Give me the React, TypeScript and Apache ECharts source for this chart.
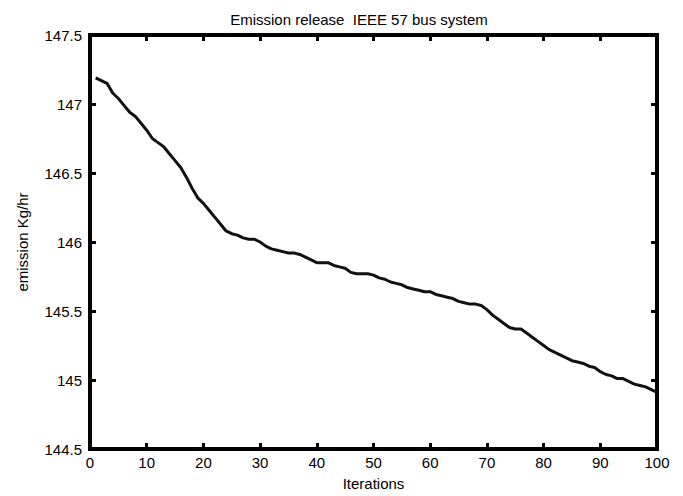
import React, { useEffect, useRef } from "react";
import * as echarts from "echarts";

const iterations: number[] = Array.from({ length: 100 }, (_, k) => k + 1);

const emission: number[] = [
  147.19, 147.17, 147.15, 147.08, 147.04, 146.99, 146.94, 146.91, 146.86, 146.81,
  146.75, 146.72, 146.69, 146.64, 146.59, 146.54, 146.47, 146.39, 146.32, 146.28,
  146.23, 146.18, 146.13, 146.08, 146.06, 146.05, 146.03, 146.02, 146.02, 146.0,
  145.97, 145.95, 145.94, 145.93, 145.92, 145.92, 145.91, 145.89, 145.87, 145.85,
  145.85, 145.85, 145.83, 145.82, 145.81, 145.78, 145.77, 145.77, 145.77, 145.76,
  145.74, 145.73, 145.71, 145.7, 145.69, 145.67, 145.66, 145.65, 145.64, 145.64,
  145.62, 145.61, 145.6, 145.59, 145.57, 145.56, 145.55, 145.55, 145.54, 145.51,
  145.47, 145.44, 145.41, 145.38, 145.37, 145.37, 145.34, 145.31, 145.28, 145.25,
  145.22, 145.2, 145.18, 145.16, 145.14, 145.13, 145.12, 145.1, 145.09, 145.06,
  145.04, 145.03, 145.01, 145.01, 144.99, 144.97, 144.96, 144.95, 144.93, 144.91,
];

const titleText = "Emission release  IEEE 57 bus system";
const xName = "Iterations";
const yName = "emission Kg/hr";

const FONT = "'Liberation Sans', Arial, Helvetica, sans-serif";

export default function App() {
  const ref = useRef<HTMLDivElement>(null);

  useEffect(() => {
    if (!ref.current) return;
    const chart = echarts.init(ref.current, null, { renderer: "svg" });

    const mkLine = () => ({ show: true, onZero: false, lineStyle: { color: "#000", width: 4, cap: "square" } });
    const mkTick = () => ({ show: true, inside: true, length: 6, lineStyle: { color: "#000", width: 3 } });
    const label = { color: "#000", fontSize: 15, fontFamily: FONT };

    chart.setOption({
      animation: false,
      backgroundColor: "#fff",
      title: {
        text: titleText,
        left: 354,
        textAlign: "center",
        top: 7,
        textStyle: { color: "#000", fontSize: 15, fontWeight: "normal", fontFamily: FONT },
      },
      grid: { left: 90, right: 26, top: 35, bottom: 45, containLabel: false },
      xAxis: [
        {
          type: "value",
          position: "bottom",
          min: 0,
          max: 100,
          interval: 10,
          axisLine: mkLine(),
          axisTick: mkTick(),
          splitLine: { show: false },
          axisLabel: { ...label, margin: 6 },
          name: xName,
          nameLocation: "middle",
          nameGap: 27,
          nameTextStyle: { ...label },
        },
        {
          type: "value",
          position: "top",
          min: 0,
          max: 100,
          interval: 10,
          axisLine: mkLine(),
          axisTick: mkTick(),
          splitLine: { show: false },
          axisLabel: { show: false },
        },
      ],
      yAxis: [
        {
          type: "value",
          position: "left",
          min: 144.5,
          max: 147.5,
          interval: 0.5,
          axisLine: mkLine(),
          axisTick: mkTick(),
          splitLine: { show: false },
          axisLabel: { ...label, margin: 8 },
          name: yName,
          nameLocation: "middle",
          nameGap: 60,
          nameTextStyle: { ...label },
        },
        {
          type: "value",
          position: "right",
          min: 144.5,
          max: 147.5,
          interval: 0.5,
          axisLine: mkLine(),
          axisTick: mkTick(),
          splitLine: { show: false },
          axisLabel: { show: false },
        },
      ],
      series: [
        {
          type: "line",
          data: iterations.map((it, i) => [it, emission[i]]),
          showSymbol: false,
          symbol: "none",
          lineStyle: { color: "#111", width: 3 },
          xAxisIndex: 0,
          yAxisIndex: 0,
        },
      ],
    });

    return () => chart.dispose();
  }, []);

  return (
    <div
      ref={ref}
      style={{ position: "fixed", left: 0, top: 0, width: 683, height: 496, background: "#fff" }}
    />
  );
}
